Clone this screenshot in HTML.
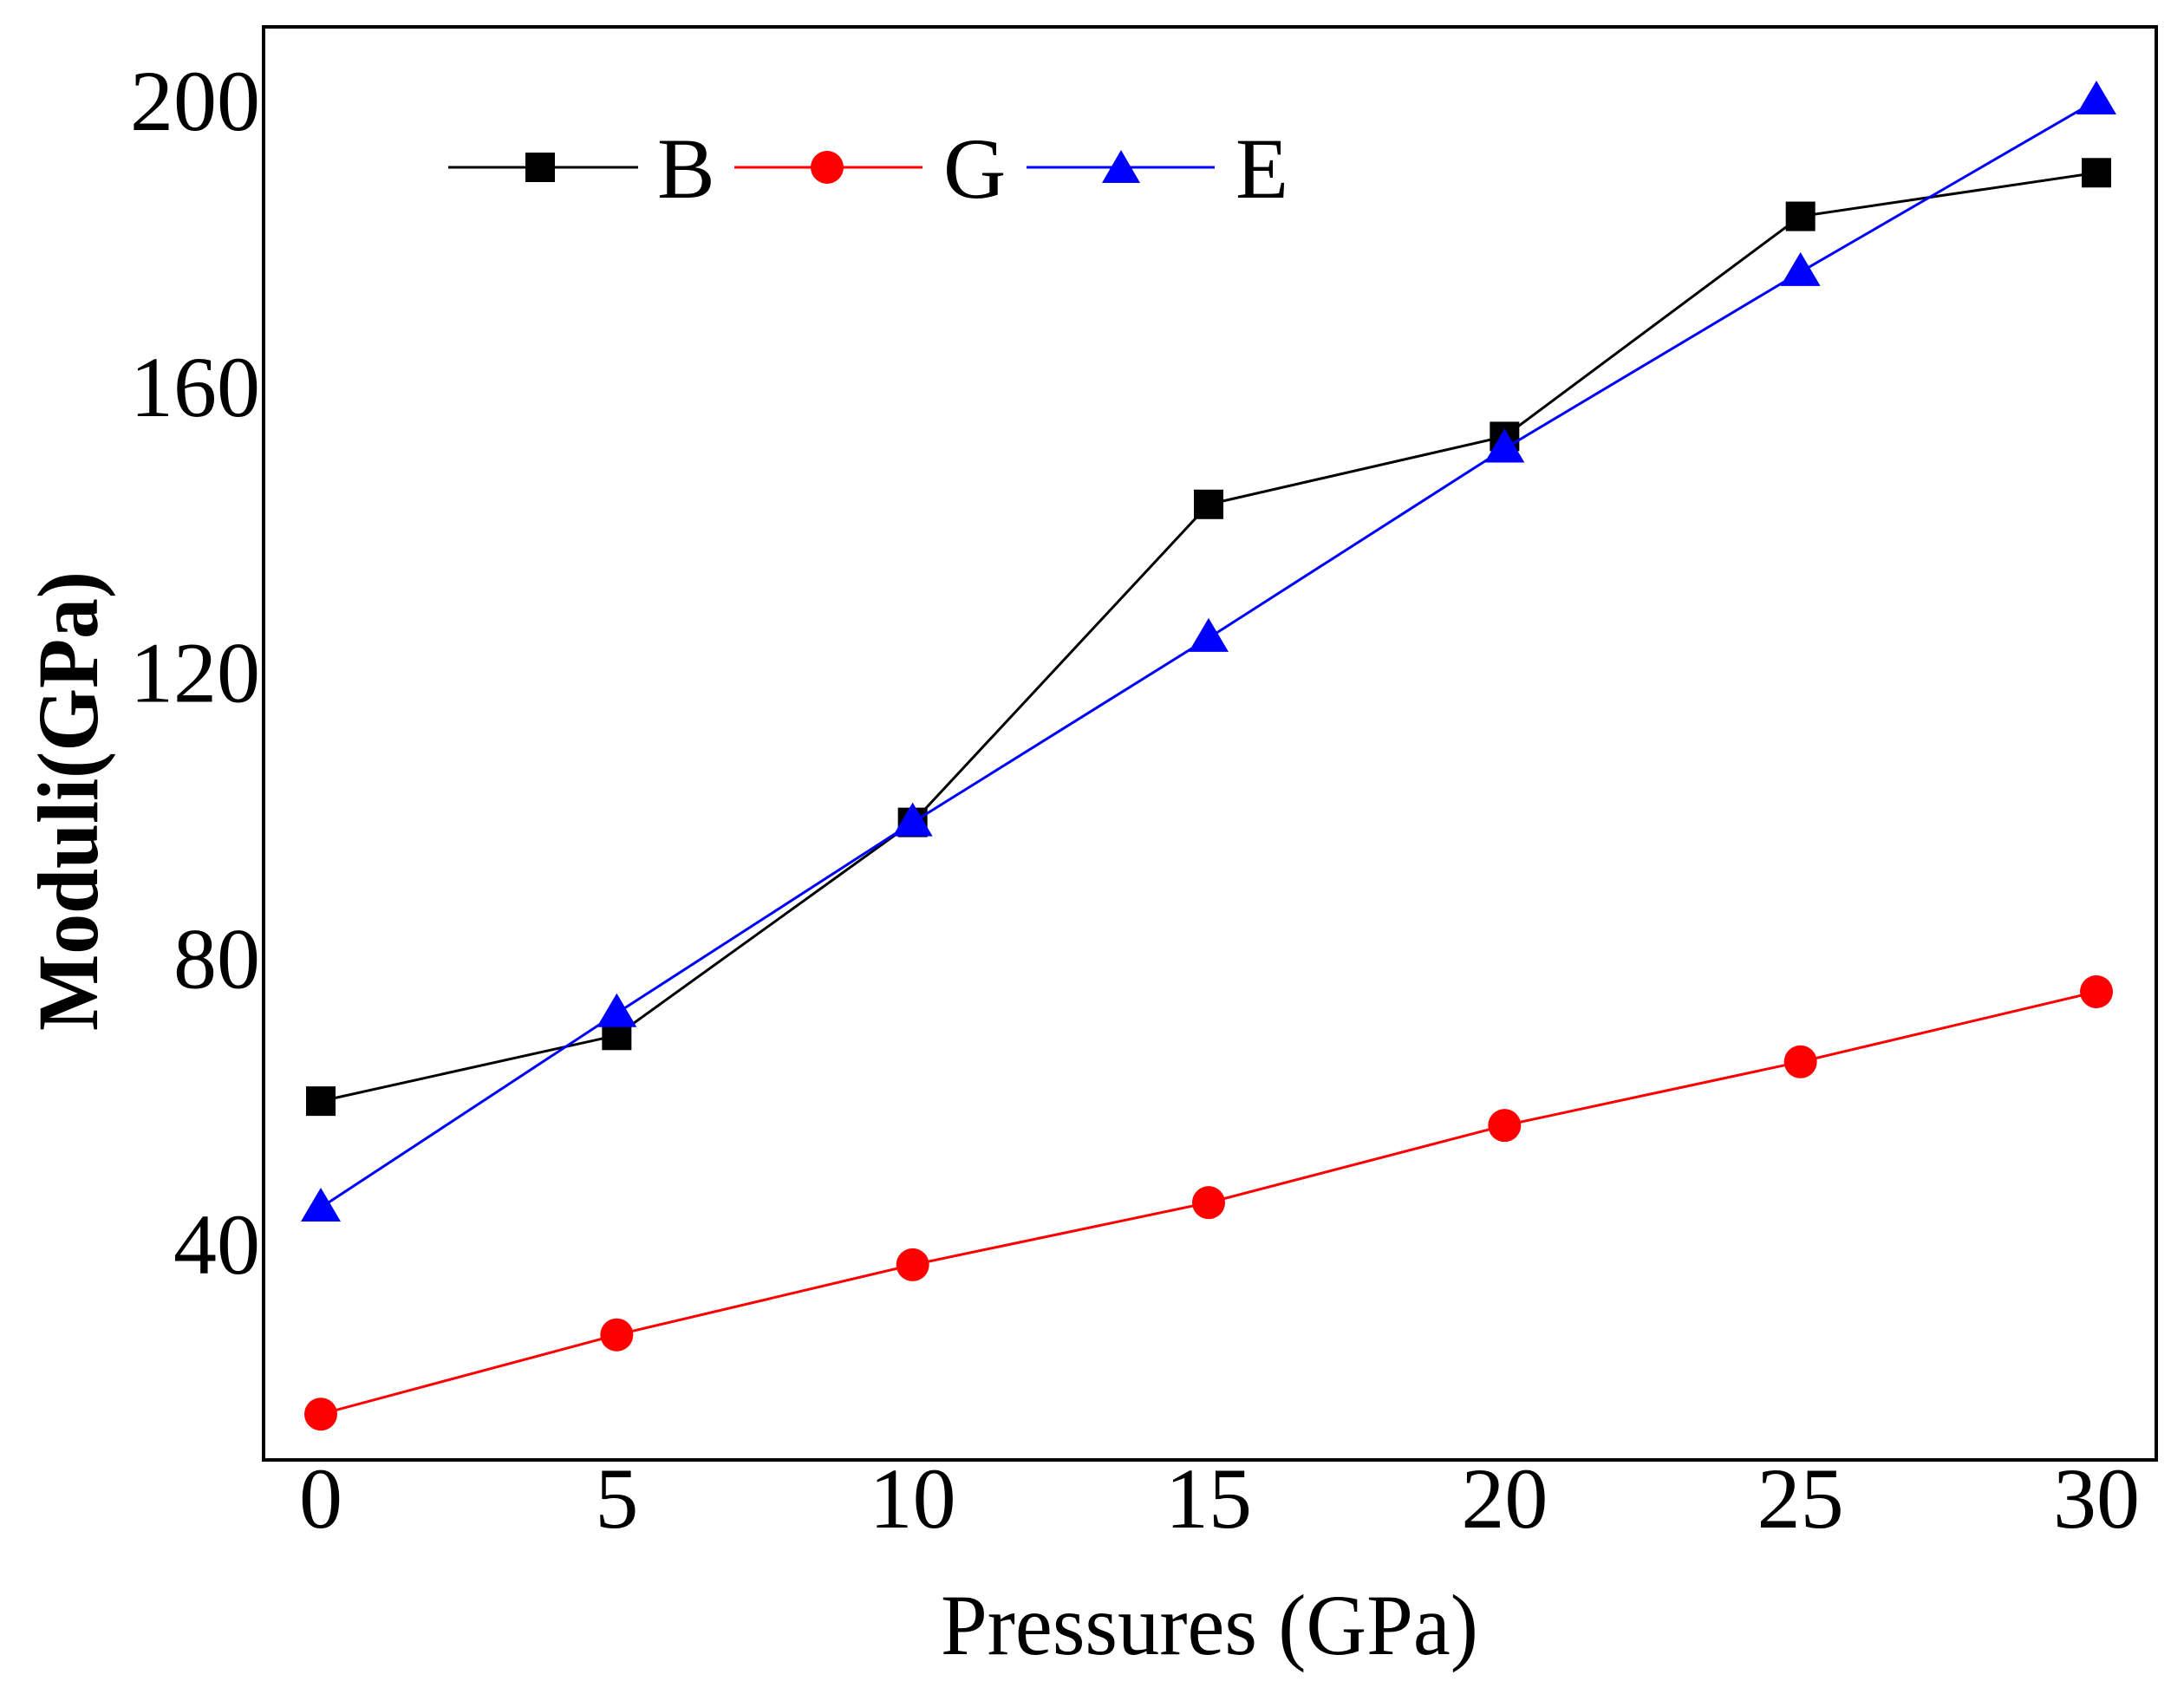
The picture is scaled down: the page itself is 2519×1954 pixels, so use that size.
<!DOCTYPE html>
<html><head><meta charset="utf-8"><style>
html,body{margin:0;padding:0;background:#fff;}
svg{display:block;font-family:"Liberation Serif",serif;}
</style></head><body>
<svg id="chart" width="2519" height="1954" viewBox="0 0 2519 1954" xmlns="http://www.w3.org/2000/svg">
<rect x="304" y="31" width="2183" height="1653" fill="none" stroke="#000" stroke-width="4"/>
<g id="marks"></g>
<g id="xticks"></g>
<g id="yticks"></g>
<text x="1395" y="1908" font-size="100" text-anchor="middle" textLength="620" lengthAdjust="spacingAndGlyphs">Pressures (GPa)</text>
<text x="0" y="0" font-size="100" font-weight="bold" text-anchor="middle" textLength="530" lengthAdjust="spacingAndGlyphs" transform="translate(112,924) rotate(-90)">Moduli(GPa)</text>
<g>
<line x1="517" y1="193" x2="736" y2="193" stroke="#000" stroke-width="3"/>
<rect x="606" y="176" width="34" height="34" fill="#000"/>
<text x="758" y="228" font-size="100">B</text>
<line x1="847" y1="193" x2="1064" y2="193" stroke="#f00" stroke-width="3"/>
<circle cx="954" cy="193" r="19" fill="#f00"/>
<text x="1088" y="228" font-size="100">G</text>
<line x1="1184" y1="193" x2="1401" y2="193" stroke="#00f" stroke-width="3"/>
<polygon points="1293,173 1315,211 1271,211" fill="#00f"/>
<text x="1425" y="228" font-size="100">E</text>
</g>
</svg>
<script>
const pressures = [0, 5, 10, 15, 20, 25, 30];
const seriesB = [60, 69.2, 99, 143.5, 153, 183.8, 189.9];
const seriesG = [16.2, 27.3, 37.1, 45.8, 56.6, 65.5, 75.3];
const seriesE = [45.1, 72.3, 99, 124.8, 151.3, 176, 200];
const xTickLabels = ["0", "5", "10", "15", "20", "25", "30"];
const yTickValues = [40, 80, 120, 160, 200];

const NS = "http://www.w3.org/2000/svg";
function xs(v){ return 370 + (v - 0) * (2418 - 370) / 30; }
function ys(v){ return 1435 - (v - 40) * (1435 - 116) / 160; }
function mk(tag, attrs, parent){
  const e = document.createElementNS(NS, tag);
  for (const k in attrs) e.setAttribute(k, attrs[k]);
  parent.appendChild(e);
  return e;
}
const marks = document.getElementById('marks');
const xt = document.getElementById('xticks');
const yt = document.getElementById('yticks');

xTickLabels.forEach((t, i) => {
  const el = mk('text', {x: xs(pressures[i]), y: 1762, 'font-size': 100, 'text-anchor': 'middle'}, xt);
  el.textContent = t;
  
  
});
yTickValues.forEach(v => {
  const el = mk('text', {x: 300, y: ys(v) + 34, 'font-size': 100, 'text-anchor': 'end'}, yt);
  el.textContent = String(v);
  
  
});

function drawSeries(vals, color, name, shape){
  const pts = vals.map((v, i) => xs(pressures[i]) + ',' + ys(v)).join(' ');
  const line = mk('polyline', {points: pts, fill: 'none', stroke: color, 'stroke-width': 3}, marks);
  
  
  vals.forEach((v, i) => {
    const cx = xs(pressures[i]), cy = ys(v);
    let m;
    if (shape === 'square') m = mk('rect', {x: cx - 17, y: cy - 17, width: 34, height: 34, fill: color}, marks);
    else if (shape === 'circle') m = mk('circle', {cx: cx, cy: cy, r: 19, fill: color}, marks);
    else m = mk('polygon', {points: cx + ',' + (cy - 23) + ' ' + (cx + 23) + ',' + (cy + 16) + ' ' + (cx - 23) + ',' + (cy + 16), fill: color}, marks);
    
    
  });
}
drawSeries(seriesB, '#000', 'b', 'square');
drawSeries(seriesG, '#f00', 'g', 'circle');
drawSeries(seriesE, '#00f', 'e', 'triangle');
</script>
</body></html>
